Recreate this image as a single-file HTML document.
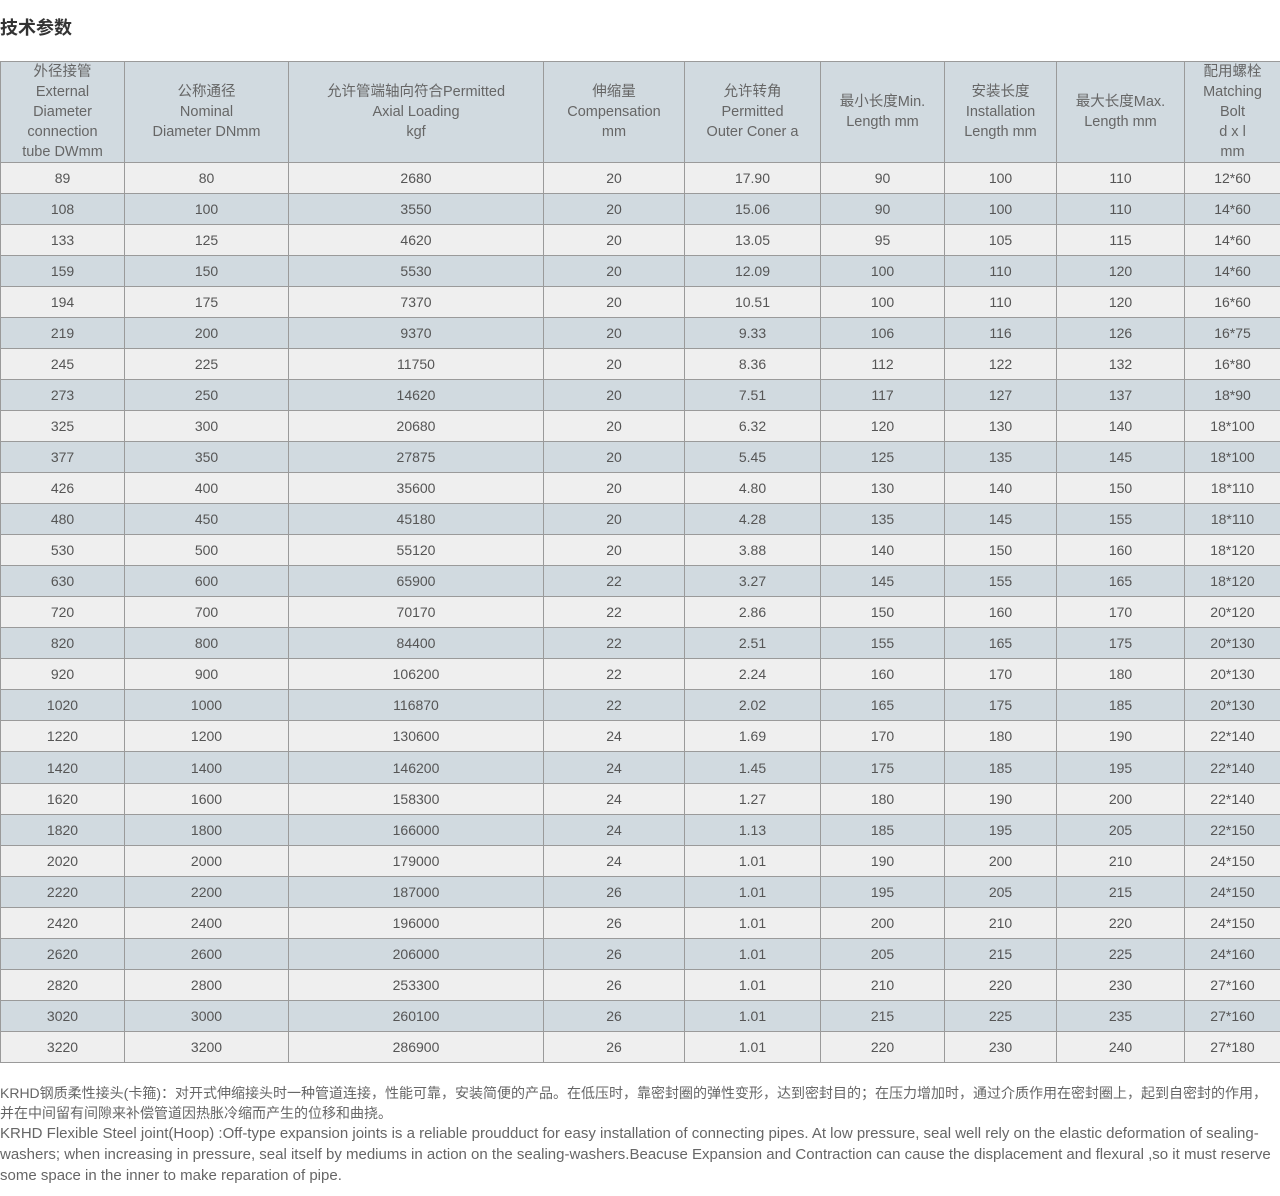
<!DOCTYPE html>
<html><head><meta charset="utf-8"><style>
body{margin:0;background:#fff;font-family:"Liberation Sans","Noto Sans CJK SC",sans-serif;color:#555;}
h1{position:absolute;left:0;top:14px;margin:0;font-size:18px;font-weight:bold;color:#333;}
table{position:absolute;left:0;top:61px;border-collapse:collapse;table-layout:fixed;width:1280px;font-size:14px;}
td{border:1px solid #9a9a9a;text-align:center;padding:0;height:30px;line-height:20px;}
tr.h td{height:100px;background:#d1dae0;color:#666;font-size:14.5px;}
tr:nth-child(odd) td{background:#d1dae0;}
tr:nth-child(even) td{background:#efefef;}
.f{position:absolute;left:0;top:1083px;width:1280px;font-size:14px;line-height:20px;color:#666;white-space:nowrap;}
.e{font-size:15px;}
</style></head><body>
<h1>技术参数</h1>
<table>
<colgroup><col style="width:124px"><col style="width:164px"><col style="width:255px"><col style="width:141px"><col style="width:136px"><col style="width:124px"><col style="width:112px"><col style="width:128px"><col style="width:96px"></colgroup>
<tr class="h"><td>外径接管<br>External<br>Diameter<br>connection<br>tube DWmm</td><td>公称通径<br>Nominal<br>Diameter DNmm</td><td>允许管端轴向符合Permitted<br>Axial Loading<br>kgf</td><td>伸缩量<br>Compensation<br>mm</td><td>允许转角<br>Permitted<br>Outer Coner a</td><td>最小长度Min.<br>Length mm</td><td>安装长度<br>Installation<br>Length mm</td><td>最大长度Max.<br>Length mm</td><td>配用螺栓<br>Matching<br>Bolt<br>d x l<br>mm</td></tr>
<tr><td>89</td><td>80</td><td>2680</td><td>20</td><td>17.90</td><td>90</td><td>100</td><td>110</td><td>12*60</td></tr>
<tr><td>108</td><td>100</td><td>3550</td><td>20</td><td>15.06</td><td>90</td><td>100</td><td>110</td><td>14*60</td></tr>
<tr><td>133</td><td>125</td><td>4620</td><td>20</td><td>13.05</td><td>95</td><td>105</td><td>115</td><td>14*60</td></tr>
<tr><td>159</td><td>150</td><td>5530</td><td>20</td><td>12.09</td><td>100</td><td>110</td><td>120</td><td>14*60</td></tr>
<tr><td>194</td><td>175</td><td>7370</td><td>20</td><td>10.51</td><td>100</td><td>110</td><td>120</td><td>16*60</td></tr>
<tr><td>219</td><td>200</td><td>9370</td><td>20</td><td>9.33</td><td>106</td><td>116</td><td>126</td><td>16*75</td></tr>
<tr><td>245</td><td>225</td><td>11750</td><td>20</td><td>8.36</td><td>112</td><td>122</td><td>132</td><td>16*80</td></tr>
<tr><td>273</td><td>250</td><td>14620</td><td>20</td><td>7.51</td><td>117</td><td>127</td><td>137</td><td>18*90</td></tr>
<tr><td>325</td><td>300</td><td>20680</td><td>20</td><td>6.32</td><td>120</td><td>130</td><td>140</td><td>18*100</td></tr>
<tr><td>377</td><td>350</td><td>27875</td><td>20</td><td>5.45</td><td>125</td><td>135</td><td>145</td><td>18*100</td></tr>
<tr><td>426</td><td>400</td><td>35600</td><td>20</td><td>4.80</td><td>130</td><td>140</td><td>150</td><td>18*110</td></tr>
<tr><td>480</td><td>450</td><td>45180</td><td>20</td><td>4.28</td><td>135</td><td>145</td><td>155</td><td>18*110</td></tr>
<tr><td>530</td><td>500</td><td>55120</td><td>20</td><td>3.88</td><td>140</td><td>150</td><td>160</td><td>18*120</td></tr>
<tr><td>630</td><td>600</td><td>65900</td><td>22</td><td>3.27</td><td>145</td><td>155</td><td>165</td><td>18*120</td></tr>
<tr><td>720</td><td>700</td><td>70170</td><td>22</td><td>2.86</td><td>150</td><td>160</td><td>170</td><td>20*120</td></tr>
<tr><td>820</td><td>800</td><td>84400</td><td>22</td><td>2.51</td><td>155</td><td>165</td><td>175</td><td>20*130</td></tr>
<tr><td>920</td><td>900</td><td>106200</td><td>22</td><td>2.24</td><td>160</td><td>170</td><td>180</td><td>20*130</td></tr>
<tr><td>1020</td><td>1000</td><td>116870</td><td>22</td><td>2.02</td><td>165</td><td>175</td><td>185</td><td>20*130</td></tr>
<tr><td>1220</td><td>1200</td><td>130600</td><td>24</td><td>1.69</td><td>170</td><td>180</td><td>190</td><td>22*140</td></tr>
<tr><td style="height:31px">1420</td><td>1400</td><td>146200</td><td>24</td><td>1.45</td><td>175</td><td>185</td><td>195</td><td>22*140</td></tr>
<tr><td>1620</td><td>1600</td><td>158300</td><td>24</td><td>1.27</td><td>180</td><td>190</td><td>200</td><td>22*140</td></tr>
<tr><td>1820</td><td>1800</td><td>166000</td><td>24</td><td>1.13</td><td>185</td><td>195</td><td>205</td><td>22*150</td></tr>
<tr><td>2020</td><td>2000</td><td>179000</td><td>24</td><td>1.01</td><td>190</td><td>200</td><td>210</td><td>24*150</td></tr>
<tr><td>2220</td><td>2200</td><td>187000</td><td>26</td><td>1.01</td><td>195</td><td>205</td><td>215</td><td>24*150</td></tr>
<tr><td>2420</td><td>2400</td><td>196000</td><td>26</td><td>1.01</td><td>200</td><td>210</td><td>220</td><td>24*150</td></tr>
<tr><td>2620</td><td>2600</td><td>206000</td><td>26</td><td>1.01</td><td>205</td><td>215</td><td>225</td><td>24*160</td></tr>
<tr><td>2820</td><td>2800</td><td>253300</td><td>26</td><td>1.01</td><td>210</td><td>220</td><td>230</td><td>27*160</td></tr>
<tr><td>3020</td><td>3000</td><td>260100</td><td>26</td><td>1.01</td><td>215</td><td>225</td><td>235</td><td>27*160</td></tr>
<tr><td>3220</td><td>3200</td><td>286900</td><td>26</td><td>1.01</td><td>220</td><td>230</td><td>240</td><td>27*180</td></tr>
</table>
<div class="f">KRHD钢质柔性接头(卡箍)：对开式伸缩接头时一种管道连接，性能可靠，安装简便的产品。在低压时，靠密封圈的弹性变形，达到密封目的；在压力增加时，通过介质作用在密封圈上，起到自密封的作用，<br>并在中间留有间隙来补偿管道因热胀冷缩而产生的位移和曲挠。<br><span class="e">KRHD Flexible Steel joint(Hoop) :Off-type expansion joints is a reliable proudduct for easy installation of connecting pipes. At low pressure, seal well rely on the elastic deformation of sealing-<br>washers; when increasing in pressure, seal itself by mediums in action on the sealing-washers.Beacuse Expansion and Contraction can cause the displacement and flexural ,so it must reserve<br>some space in the inner to make reparation of pipe.</span></div>
</body></html>
